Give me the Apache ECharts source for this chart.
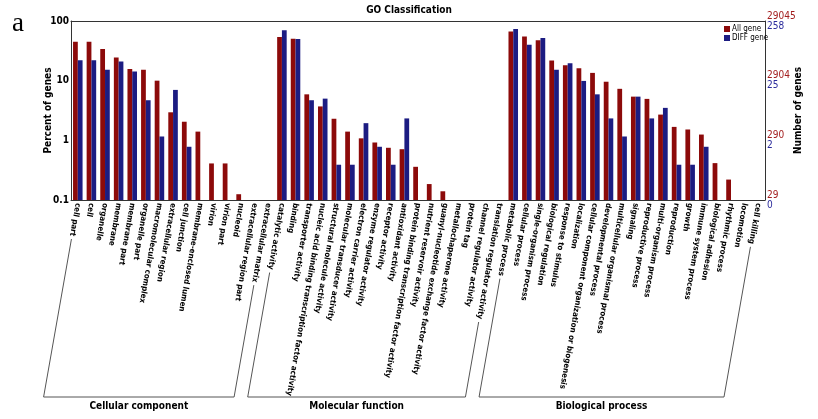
<!DOCTYPE html>
<html>
<head>
<meta charset="utf-8">
<script src="https://cdn.jsdelivr.net/npm/echarts@6/dist/echarts.min.js"></script>
<style>
  html, body { margin: 0; padding: 0; background: #fff; }
  #main { width: 818px; height: 419px; }
</style>
</head>
<body>
<div id="main"></div>
<script>
// GO terms, in the order of the x axis
var categories = [
  'cell part', 'cell', 'organelle', 'membrane', 'membrane part', 'organelle part',
  'macromolecular complex', 'extracellular region', 'cell junction', 'membrane-enclosed lumen',
  'virion', 'virion part', 'nucleoid', 'extracellular region part', 'extracellular matrix',
  'catalytic activity', 'binding', 'transporter activity',
  'nucleic acid binding transcription factor activity', 'structural molecule activity',
  'molecular transducer activity', 'electron carrier activity', 'enzyme regulator activity',
  'receptor activity', 'antioxidant activity', 'protein binding transcription factor activity',
  'nutrient reservoir activity', 'guanyl-nucleotide exchange factor activity',
  'metallochaperone activity', 'protein tag', 'channel regulator activity',
  'translation regulator activity',
  'metabolic process', 'cellular process', 'single-organism process', 'biological regulation',
  'response to stimulus', 'localization', 'cellular component organization or biogenesis',
  'developmental process', 'multicellular organismal process', 'signaling',
  'reproductive process', 'multi-organism process', 'reproduction', 'growth',
  'immune system process', 'biological adhesion', 'rhythmic process', 'locomotion', 'cell killing'
];

// percent of genes ('-' = no bar)
var allGene = [
  45, 45, 34, 24.5, 15.7, 15.3, 10, 2.95, 2.05, 1.4, 0.41, 0.41, 0.125, '-', '-',
  54, 50.5, 5.9, 3.7, 2.3, 1.4, 1.08, 0.92, 0.75, 0.71, 0.36, 0.185, 0.14, '-', '-', '-', '-',
  67, 55, 47.5, 21.7, 18.1, 16.1, 13.5, 9.6, 7.3, 5.4, 4.95, 2.7, 1.68, 1.52, 1.25, 0.415, 0.22, '-', '-'
];
var diffGene = [
  22, 22, 15.3, 20.9, 14.2, 4.7, 1.16, 7.0, 0.78, '-', '-', '-', '-', '-', '-',
  70, 50, 4.7, 5.0, 0.39, 0.39, 1.94, 0.78, 0.39, 2.33, '-', '-', '-', '-', '-', '-', '-',
  73.5, 40, 52, 15.3, 19.6, 9.9, 5.9, 2.33, 1.16, 5.4, 2.33, 3.5, 0.39, 0.39, 0.78, '-', '-', '-', '-'
];

// right axis: number of genes (all / diff) at 0.1, 1, 10, 100 %
var rightTicksAll = ['29', '290', '2904', '29045'];
var rightTicksDiff = ['0', '2', '25', '258'];

// the three GO domains (index ranges on the x axis)
var groups = [
  { name: 'Cellular component', from: 0, to: 14 },
  { name: 'Molecular function', from: 15, to: 31 },
  { name: 'Biological process', from: 32, to: 50 }
];

var font = '"Liberation Sans Narrow", "Arial Narrow", "DejaVu Sans Condensed", sans-serif';
var labelRotate = -100;
var labelMargin = 3;
var labelSize = 8;
var labelWeight = 'bold';

var chart = echarts.init(document.getElementById('main'));

var option = {
  animation: false,
  title: {
    text: 'GO Classification',
    left: 'center',
    top: 3,
    padding: [2, 0, 2, 18],
    textStyle: { fontSize: 10, fontWeight: 'bold', fontFamily: font, color: '#000' }
  },
  legend: {
    data: ['All gene', 'DIFF gene'],
    orient: 'vertical',
    left: 719,
    top: 20,
    itemWidth: 6,
    itemHeight: 6,
    itemGap: 1,
    icon: 'rect',
    textStyle: { fontSize: 8, fontFamily: font, color: '#000', padding: [0, 0, 0, -3] }
  },
  grid: { left: 71, right: 53, top: 21, bottom: 219, containLabel: false, outerBoundsMode: 'none' },
  xAxis: [
    {
      type: 'category',
      data: categories,
      position: 'bottom',
      axisLine: { lineStyle: { color: '#333' } },
      axisTick: { inside: true, length: 3, lineStyle: { color: '#333' } },
      axisLabel: {
        interval: 0,
        rotate: labelRotate,
        margin: labelMargin,
        fontSize: labelSize,
        fontWeight: labelWeight,
        fontFamily: font,
        color: '#000'
      }
    },
    {
      type: 'category',
      data: categories,
      position: 'top',
      axisLine: { lineStyle: { color: '#333' } },
      axisTick: { inside: true, length: 3, lineStyle: { color: '#333' } },
      axisLabel: { show: false }
    }
  ],
  yAxis: [
    {
      type: 'log',
      logBase: 10,
      min: 0.1,
      max: 100,
      startValue: 0.1,
      name: 'Percent of genes',
      nameLocation: 'middle',
      nameGap: 18,
      nameMoveOverlap: false,
      nameTextStyle: { fontSize: 10, fontWeight: 'bold', fontFamily: font, color: '#000' },
      axisLine: { show: true, lineStyle: { color: '#333' } },
      axisTick: { show: false },
      splitLine: { show: false },
      axisLabel: { margin: 2, fontSize: 10, fontWeight: 'bold', fontFamily: font, color: '#000' }
    },
    {
      type: 'log',
      logBase: 10,
      min: 0.1,
      max: 100,
      position: 'right',
      name: 'Number of genes',
      nameLocation: 'middle',
      nameGap: 28,
      nameMoveOverlap: false,
      nameTextStyle: { fontSize: 10, fontWeight: 'bold', fontFamily: font, color: '#000' },
      axisLine: { show: true, lineStyle: { color: '#333' } },
      axisTick: { show: false },
      splitLine: { show: false },
      axisLabel: {
        margin: 2,
        fontFamily: font,
        formatter: function (value, index) {
          return '{a|' + rightTicksAll[index] + '}\n{b|' + rightTicksDiff[index] + '}';
        },
        rich: {
          a: { fontSize: 10, lineHeight: 10, color: '#a31d1d', fontFamily: font },
          b: { fontSize: 10, lineHeight: 10, color: '#2b2b9c', fontFamily: font }
        }
      }
    }
  ],
  series: [
    {
      name: 'All gene',
      type: 'bar',
      data: allGene,
      barWidth: '35%',
      barGap: '0%',
      itemStyle: { color: '#8c0a0a' }
    },
    {
      name: 'DIFF gene',
      type: 'bar',
      data: diffGene,
      barWidth: '35%',
      barGap: '0%',
      itemStyle: { color: '#1c1c82' }
    }
  ]
};

chart.setOption(option);

// brackets under the rotated labels, following the label direction
var ctx = document.createElement('canvas').getContext('2d');
ctx.font = labelWeight + ' ' + labelSize + 'px ' + font;
var rad = labelRotate * Math.PI / 180;
var dir = [Math.cos(rad), -Math.sin(rad)];
var axisY = chart.convertToPixel({ yAxisIndex: 0 }, 0.1);
var bracketY = 397;

function labelTip(i) {
  var x = chart.convertToPixel({ xAxisIndex: 0 }, categories[i]);
  var len = ctx.measureText(categories[i]).width + 3;
  return [x + dir[0] * len, axisY + labelMargin + dir[1] * len];
}
function downTo(p) {
  var t = (bracketY - p[1]) / dir[1];
  return [p[0] + dir[0] * t, bracketY];
}

var graphics = [{
  type: 'text',
  left: 12,
  top: 10,
  style: { text: 'a', fontSize: 27, fontFamily: '"Liberation Serif", "Times New Roman", serif', fill: '#000' }
}];
groups.forEach(function (g) {
  var lt = labelTip(g.from), rt = labelTip(g.to);
  var lb = downTo(lt), rb = downTo(rt);
  graphics.push({
    type: 'polyline',
    silent: true,
    shape: { points: [lt, lb, rb, rt] },
    style: { stroke: '#555', fill: null, lineWidth: 1 }
  });
  graphics.push({
    type: 'text',
    x: (lb[0] + rb[0]) / 2,
    y: bracketY + 9,
    style: {
      text: g.name, fontSize: 10, fontWeight: 'bold', fontFamily: font, fill: '#000',
      align: 'center', verticalAlign: 'middle', textAlign: 'center', textVerticalAlign: 'middle'
    }
  });
});
chart.setOption({ graphic: graphics });
</script>
</body>
</html>
